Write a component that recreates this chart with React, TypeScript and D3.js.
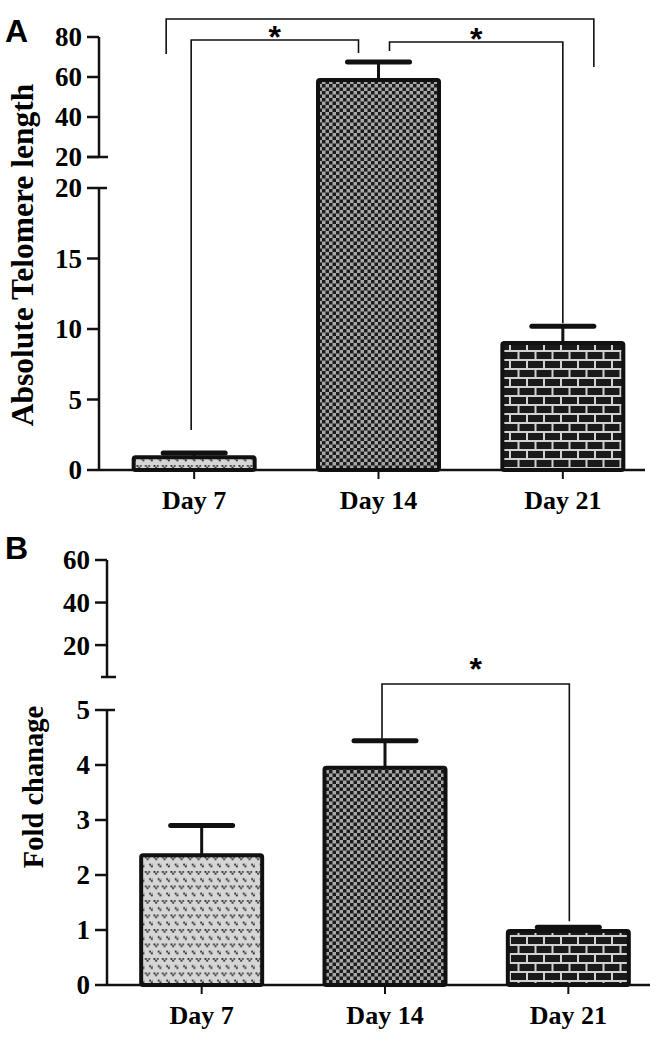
import React from "react";
import * as d3 from "d3";

// categories and values
const days = ["Day 7", "Day 14", "Day 21"];
const patternIds = ["dots", "checker", "brick"];

// panel A: absolute telomere length (mean, upper error bar end)
const telomereMean = [0.9, 58.5, 9.0];
const telomereTop = [1.2, 67.5, 10.2];
const telomereLowTicks = [0, 5, 10, 15, 20];
const telomereHighTicks = [20, 40, 60, 80];

// panel B: fold change
const foldMean = [2.36, 3.95, 0.98];
const foldTop = [2.9, 4.44, 1.05];
const foldLowTicks = [0, 1, 2, 3, 4, 5];
const foldHighTicks = [20, 40, 60];

const SERIF = "'Liberation Serif', 'Times New Roman', serif";
const SANS = "'Liberation Sans', Arial, sans-serif";

type Bracket = { from: number; to: number; dxFrom: number; dxTo: number; y: number; yFrom: number; yTo: number; star: boolean };

interface PanelProps {
  letter: string;
  letterY: number;
  title: string;
  titleX: number;
  titleY: number;
  titleSize: number;
  axisX: number;
  xEnd: number;
  low: d3.ScaleLinear<number, number>;
  high: d3.ScaleLinear<number, number>;
  lowTicks: number[];
  highTicks: number[];
  highLabelFirst: boolean;
  means: number[];
  tops: number[];
  brackets: Bracket[];
  starDy: number;
}

const Panel: React.FC<PanelProps> = (p) => {
  const x = d3.scalePoint<string>().domain(days).range([p.axisX + 3, p.xEnd + 10]).padding(0.5);
  const lowMax = p.low.domain()[1];
  const y = (v: number) => (v <= lowMax ? p.low(v) : p.high(v));
  const y0 = p.low(0);
  const barW = 121;
  const [hMin, hMax] = p.high.domain();

  return (
    <g>
      <text x={5} y={p.letterY} fontFamily={SANS} fontWeight="bold" fontSize={32}>
        {p.letter}
      </text>
      <text
        transform={`translate(${p.titleX},${p.titleY}) rotate(-90)`}
        textAnchor="middle"
        fontFamily={SERIF}
        fontWeight="bold"
        fontSize={p.titleSize}
      >
        {p.title}
      </text>

      {/* bars */}
      {days.map((d, i) => {
        const cx = x(d)!;
        return (
          <g key={d}>
            <line x1={cx} x2={cx} y1={y(p.means[i])} y2={y(p.tops[i])} stroke="#111" strokeWidth={3} />
            <line x1={cx - 31} x2={cx + 31} y1={y(p.tops[i])} y2={y(p.tops[i])} stroke="#111" strokeWidth={5} strokeLinecap="round" />
            <rect
              x={cx - barW / 2}
              y={y(p.means[i])}
              width={barW}
              height={y0 - y(p.means[i])}
              rx={2}
              fill={`url(#${patternIds[i]})`}
              stroke="#111"
              strokeWidth={4}
              strokeLinejoin="round"
            />
            <line x1={cx} x2={cx} y1={y0} y2={y0 + 9} stroke="#111" strokeWidth={2} />
            <text x={cx} y={y0 + 39} textAnchor="middle" fontFamily={SERIF} fontWeight="bold" fontSize={26}>
              {d}
            </text>
          </g>
        );
      })}

      {/* x axis */}
      <line x1={p.axisX} x2={p.xEnd} y1={y0} y2={y0} stroke="#111" strokeWidth={2.5} />

      {/* lower y segment */}
      <line x1={p.axisX} x2={p.axisX} y1={y0 + 1} y2={p.low(lowMax)} stroke="#111" strokeWidth={2.5} />
      {p.lowTicks.map((t, i) => (
        <g key={"l" + t}>
          <line
            x1={p.axisX - 12}
            x2={i === p.lowTicks.length - 1 ? p.axisX + 8 : p.axisX}
            y1={p.low(t)}
            y2={p.low(t)}
            stroke="#111"
            strokeWidth={2.5}
          />
          <text x={p.axisX - 17} y={p.low(t)} dy="0.35em" textAnchor="end" fontFamily={SERIF} fontWeight="bold" fontSize={27}>
            {t}
          </text>
        </g>
      ))}

      {/* upper y segment */}
      <line x1={p.axisX} x2={p.axisX} y1={p.high(hMin)} y2={p.high(hMax)} stroke="#111" strokeWidth={2.5} />
      <line
        x1={p.axisX - (p.highLabelFirst ? 12 : 6)}
        x2={p.axisX + 9}
        y1={p.high(hMin)}
        y2={p.high(hMin)}
        stroke="#111"
        strokeWidth={2.5}
      />
      {p.highTicks.map((t) => (
        <g key={"h" + t}>
          <line x1={p.axisX - 12} x2={p.axisX} y1={p.high(t)} y2={p.high(t)} stroke="#111" strokeWidth={2.5} />
          <text x={p.axisX - 17} y={p.high(t)} dy="0.35em" textAnchor="end" fontFamily={SERIF} fontWeight="bold" fontSize={27}>
            {t}
          </text>
        </g>
      ))}

      {/* significance brackets */}
      {p.brackets.map((b, i) => {
        const xa = x(days[b.from])! + b.dxFrom;
        const xb = x(days[b.to])! + b.dxTo;
        return (
          <g key={"b" + i}>
            <path d={`M${xa},${b.yFrom}V${b.y}H${xb}V${b.yTo}`} fill="none" stroke="#111" strokeWidth={1.6} />
            {b.star && (
              <text x={(xa + xb) / 2} y={b.y + p.starDy} textAnchor="middle" fontFamily={SANS} fontWeight="bold" fontSize={32}>
                *
              </text>
            )}
          </g>
        );
      })}
    </g>
  );
};

export default function App() {
  const aLow = d3.scaleLinear().domain([0, 20]).range([470, 188]);
  const aHigh = d3.scaleLinear().domain([20, 80]).range([157, 37]);
  const bLow = d3.scaleLinear().domain([0, 5]).range([985, 710]);
  const bHigh = d3.scaleLinear().domain([5, 60]).range([677, 560]);

  const aBrackets: Bracket[] = [
    { from: 0, to: 2, dxFrom: -28, dxTo: 31, y: 19, yFrom: 54, yTo: 67, star: false },
    { from: 0, to: 1, dxFrom: -3, dxTo: -20, y: 40, yFrom: aLow(telomereTop[0]) - 23, yTo: 53, star: true },
    { from: 1, to: 2, dxFrom: 11, dxTo: 0, y: 42, yFrom: 51, yTo: aLow(telomereTop[2]) - 3, star: true },
  ];
  const bBrackets: Bracket[] = [
    { from: 1, to: 2, dxFrom: -3, dxTo: 1, y: 684, yFrom: bLow(foldTop[1]) - 2, yTo: bLow(foldTop[2]) - 6, star: true },
  ];

  return (
    <svg width={660} height={1043} style={{ position: "absolute", left: 0, top: 0, background: "#fff" }}>
      <defs>
        <pattern id="dots" width={8.5} height={14.5} patternUnits="userSpaceOnUse">
          <rect width={8.5} height={14.5} fill="#d6d6d6" />
          {[
            [0.5, 1],
            [4.75, 8.25],
          ].map(([px, py], i) => (
            <g key={i} fill="#222">
              <rect x={px} y={py} width={1.8} height={1.8} />
              <rect x={px + 3.4} y={py} width={1.8} height={1.8} fill="#444" />
              <rect x={px + 1.7} y={py + 1.8} width={1.8} height={1.8} />
            </g>
          ))}
        </pattern>
        <pattern id="checker" width={7} height={7} patternUnits="userSpaceOnUse">
          <rect width={7} height={7} fill="#a8a8a8" />
          <rect x={0} y={0} width={3.5} height={3.5} fill="#1c1c1c" />
          <rect x={3.5} y={3.5} width={3.5} height={3.5} fill="#1c1c1c" />
        </pattern>
        <pattern id="brick" width={17} height={18} patternUnits="userSpaceOnUse">
          <rect width={17} height={18} fill="#d2d2d2" />
          <rect x={1} y={1} width={15} height={7} fill="#1a1a1a" />
          <rect x={-7.5} y={10} width={15} height={7} fill="#1a1a1a" />
          <rect x={9.5} y={10} width={15} height={7} fill="#1a1a1a" />
        </pattern>
      </defs>

      <Panel
        letter="A"
        letterY={42}
        title="Absolute  Telomere  length"
        titleX={33}
        titleY={255}
        titleSize={31.5}
        axisX={99}
        xEnd={645}
        low={aLow}
        high={aHigh}
        lowTicks={telomereLowTicks}
        highTicks={telomereHighTicks}
        highLabelFirst={true}
        means={telomereMean}
        tops={telomereTop}
        brackets={aBrackets}
        starDy={8}
      />
      <Panel
        letter="B"
        letterY={559}
        title="Fold chanage"
        titleX={43}
        titleY={787}
        titleSize={28.5}
        axisX={107}
        xEnd={650}
        low={bLow}
        high={bHigh}
        lowTicks={foldLowTicks}
        highTicks={foldHighTicks}
        highLabelFirst={false}
        means={foldMean}
        tops={foldTop}
        brackets={bBrackets}
        starDy={-4}
      />
    </svg>
  );
}
